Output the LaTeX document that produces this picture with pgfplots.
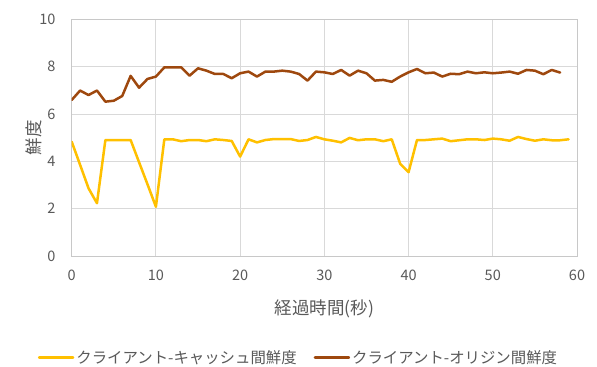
\documentclass[border=0pt]{standalone}
\usepackage{fontspec}
\setmainfont{Noto Sans CJK JP}
\usepackage{pgfplots}
\pgfplotsset{compat=1.18}
\definecolor{cache}{HTML}{FFC000}
\definecolor{origin}{HTML}{9E480E}
\definecolor{gridc}{HTML}{D9D9D9}
\definecolor{axc}{HTML}{C8C8C8}
\definecolor{txt}{HTML}{595959}
\begin{document}
\begin{tikzpicture}
\path[use as bounding box] (-71.7bp,-111bp) rectangle (525.3bp,256bp);
\begin{axis}[
  at={(0,0)}, anchor=south west,
  scale only axis, width=505.3bp, height=236.7bp,
  xmin=0, xmax=60, ymin=0, ymax=10,
  xtick={0,10,...,60}, ytick={0,2,...,10},
  grid=major,
  major grid style={gridc, line width=0.9bp},
  axis line style={axc, line width=0.9bp},
  major tick length=0pt,
  /pgf/number format/assume math mode=true,
  tick label style={txt, font=\fontsize{14.5bp}{17bp}\selectfont},
  yticklabel style={inner sep=0pt, anchor=east, xshift=-16bp},
  xticklabel style={inner sep=0pt, anchor=north, yshift=-14bp},
  xlabel={経過時間(秒)},
  ylabel={鮮度},
  label style={txt, font=\fontsize{17.5bp}{20bp}\selectfont},
  xlabel style={at={(axis description cs:0.5,-0.2239)}, anchor=center},
  ylabel style={at={(axis description cs:-0.0746,0.5)}, anchor=center, rotate=0},
  legend columns=2,
  legend style={draw=none, fill=none, at={(axis description cs:0.4488,-0.4288)}, anchor=center,
    font=\fontsize{15.4bp}{18bp}\selectfont, text=txt,
    /tikz/every even column/.append style={column sep=15bp}},
  legend image code/.code={\draw[#1] (0bp,0bp) -- (34bp,0bp);},
  every axis plot/.append style={line width=2.5bp, line join=round, line cap=round},
]
\addplot[cache, mark=none] coordinates {
(0,4.83) (1,3.85) (2,2.86) (3,2.23) (4,4.90) (5,4.90) (6,4.90) (7,4.90) (8,3.96) (9,3.03)
(10,2.08) (11,4.93) (12,4.93) (13,4.85) (14,4.90) (15,4.90) (16,4.85) (17,4.93) (18,4.90) (19,4.86)
(20,4.20) (21,4.93) (22,4.80) (23,4.90) (24,4.94) (25,4.94) (26,4.94) (27,4.86) (28,4.90) (29,5.03)
(30,4.93) (31,4.87) (32,4.80) (33,4.99) (34,4.89) (35,4.93) (36,4.93) (37,4.85) (38,4.93) (39,3.90)
(40,3.54) (41,4.90) (42,4.90) (43,4.93) (44,4.96) (45,4.85) (46,4.89) (47,4.93) (48,4.93) (49,4.90)
(50,4.96) (51,4.93) (52,4.87) (53,5.03) (54,4.94) (55,4.87) (56,4.93) (57,4.89) (58,4.89) (59,4.93)
};
\addlegendentry{クライアント-キャッシュ間鮮度}
\addplot[origin, mark=none] coordinates {
(0,6.59) (1,6.99) (2,6.80) (3,6.99) (4,6.52) (5,6.56) (6,6.76) (7,7.61) (8,7.11) (9,7.48)
(10,7.58) (11,7.97) (12,7.97) (13,7.97) (14,7.62) (15,7.93) (16,7.83) (17,7.69) (18,7.69) (19,7.51)
(20,7.72) (21,7.79) (22,7.58) (23,7.79) (24,7.79) (25,7.83) (26,7.79) (27,7.69) (28,7.41) (29,7.79)
(30,7.76) (31,7.69) (32,7.86) (33,7.62) (34,7.83) (35,7.72) (36,7.41) (37,7.44) (38,7.36) (39,7.58)
(40,7.76) (41,7.90) (42,7.72) (43,7.75) (44,7.58) (45,7.70) (46,7.68) (47,7.79) (48,7.72) (49,7.76)
(50,7.72) (51,7.75) (52,7.79) (53,7.70) (54,7.86) (55,7.83) (56,7.68) (57,7.86) (58,7.75)
};
\addlegendentry{クライアント-オリジン間鮮度}
\end{axis}
\end{tikzpicture}
\end{document}
